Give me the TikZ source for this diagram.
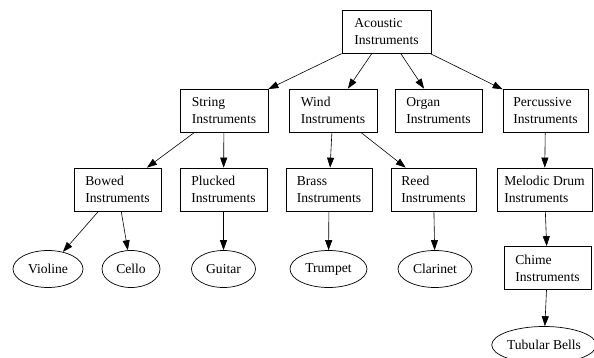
\documentclass[tikz,border=0pt]{standalone}
\usepackage{fontspec}
\setmainfont{Liberation Serif}
\usetikzlibrary{arrows.meta,shapes.geometric}
\begin{document}
\begin{tikzpicture}[x=1pt,y=-1pt,
  every node/.style={font=\fontsize{13.6}{17}\selectfont},
  box/.style={draw, rectangle, line width=0.7pt, align=left, minimum width=#1, minimum height=43, inner sep=0pt},
  oval/.style={draw, ellipse, line width=0.7pt, inner sep=0pt, minimum width=#1, minimum height=37},
  edge/.style={line width=0.6pt, -{Triangle[length=10pt,width=7pt]}}]
\useasboundingbox (0,0) rectangle (594,358);
\node[box=89] (acoustic) at (386.5,32) {Acoustic\\Instruments};
\node[box=88] (string) at (224,110.5) {String\\Instruments};
\node[box=88] (wind) at (333,110.5) {Wind\\Instruments};
\node[box=87] (organ) at (438.5,110.5) {Organ\\Instruments};
\node[box=85] (perc) at (545.5,110.5) {Percussive\\Instruments};
\node[box=87] (bowed) at (117.5,189.5) {Bowed\\Instruments};
\node[box=87] (plucked) at (223.5,189.5) {Plucked\\Instruments};
\node[box=86] (brass) at (329,189.5) {Brass\\Instruments};
\node[box=85] (reed) at (433.5,189.5) {Reed\\Instruments};
\node[box=95] (melodic) at (544.5,189.5) {Melodic Drum\\Instruments};
\node[box=87] (chime) at (547.5,268) {Chime\\Instruments};
\node[oval=70] (violine) at (48,269) {Violine};
\node[oval=58] (cello) at (131,269) {Cello};
\node[oval=64] (guitar) at (223.5,269) {Guitar};
\node[oval=77] (trumpet) at (328.5,269) {Trumpet};
\node[oval=74] (clarinet) at (435,269) {Clarinet};
\node[oval=98] (tubular) at (544,345) {Tubular Bells};
\draw[edge] (acoustic) -- (string);
\draw[edge] (acoustic) -- (wind);
\draw[edge] (acoustic) -- (organ);
\draw[edge] (acoustic) -- (perc);
\draw[edge] (string) -- (bowed);
\draw[edge] (string) -- (plucked);
\draw[edge] (wind) -- (brass);
\draw[edge] (wind) -- (reed);
\draw[edge] (perc) -- (melodic);
\draw[edge] (bowed) -- (violine);
\draw[edge] (bowed) -- (cello);
\draw[edge] (plucked) -- (guitar);
\draw[edge] (brass) -- (trumpet);
\draw[edge] (reed) -- (clarinet);
\draw[edge] (melodic) -- (chime);
\draw[edge] (chime) -- (tubular);
\end{tikzpicture}
\end{document}
